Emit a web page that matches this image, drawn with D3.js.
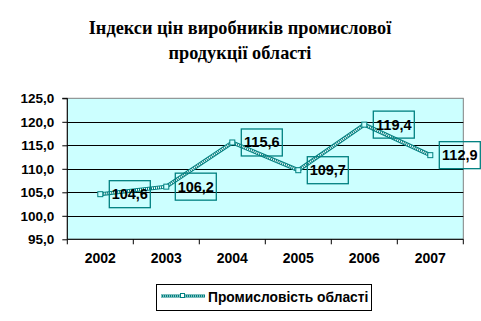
<!DOCTYPE html>
<html>
<head>
<meta charset="utf-8">
<script src="https://cdn.jsdelivr.net/npm/d3@7"></script>
<style>
  body { margin: 0; background: #fff; }
  svg { display: block; }
</style>
</head>
<body>
<div id="chart"></div>
<script>
const years = ['2002', '2003', '2004', '2005', '2006', '2007'];
const values = [104.6, 106.2, 115.6, 109.7, 119.4, 112.9];
const yTicks = [95, 100, 105, 110, 115, 120, 125];
const titleLines = ['Індекси цін виробників промислової', 'продукції області'];
const seriesName = 'Промисловість області';

const W = 481, H = 321;
const PLOT = { left: 67.3, right: 463.3, top: 98.3, bottom: 239.3 };
const COLORS = { plot: '#ccffff', line: '#008080', grid: '#000', border: '#808080' };

const fmt = v => v.toFixed(1).replace('.', ',');

const svg = d3.select('#chart').append('svg')
  .attr('width', W)
  .attr('height', H);

// Title
svg.append('text')
  .attr('x', 240)
  .attr('y', 34)
  .attr('text-anchor', 'middle')
  .attr('font-family', 'Liberation Serif, Times New Roman, serif')
  .attr('font-weight', 'bold')
  .attr('font-size', 18.3)
  .selectAll('tspan')
    .data(titleLines)
  .enter().append('tspan')
    .attr('x', 240)
    .attr('dy', (d, i) => i ? 25 : 0)
    .text(d => d);

const x = d3.scaleBand()
  .domain(years)
  .range([PLOT.left, PLOT.right]);
const y = d3.scaleLinear()
  .domain([95, 125])
  .range([PLOT.bottom, PLOT.top]);

// Plot area
svg.append('rect')
  .attr('x', PLOT.left)
  .attr('y', PLOT.top)
  .attr('width', PLOT.right - PLOT.left)
  .attr('height', PLOT.bottom - PLOT.top)
  .attr('fill', COLORS.plot)
  .attr('stroke', COLORS.border)
  .attr('stroke-width', 1);

// Grid lines
svg.selectAll('.grid')
    .data(yTicks.filter(t => t > 95 && t < 125))
  .enter().append('line')
    .attr('x1', PLOT.left)
    .attr('x2', PLOT.right)
    .attr('y1', d => Math.round(y(d)) + 0.5)
    .attr('y2', d => Math.round(y(d)) + 0.5)
    .attr('stroke', COLORS.grid)
    .attr('stroke-width', 1);

// Axes
const yAxis = svg.append('g')
  .attr('transform', `translate(${PLOT.left},0)`)
  .call(d3.axisLeft(y).tickValues(yTicks).tickFormat(fmt).tickSize(5).tickPadding(8));
const xAxis = svg.append('g')
  .attr('transform', `translate(0,${PLOT.bottom})`)
  .call(d3.axisBottom(x).tickSize(0).tickPadding(14));
xAxis.selectAll('.band-tick')
    .data(d3.range(years.length + 1))
  .enter().append('line')
    .attr('x1', i => PLOT.left + i * x.step())
    .attr('x2', i => PLOT.left + i * x.step())
    .attr('y1', 0)
    .attr('y2', 5)
    .attr('stroke', '#000');

for (let ax of [yAxis, xAxis]) {
  ax.select('.domain').attr('stroke', '#000');
  ax.selectAll('.tick line').attr('stroke', '#000');
  ax.selectAll('text')
    .attr('font-family', 'Arial, Liberation Sans, sans-serif')
    .attr('font-weight', 'bold')
    .attr('font-size', 13.5)
    .attr('fill', '#000');
}
xAxis.selectAll('text').attr('font-size', 14);
yAxis.select('.domain').attr('d', `M-5,${PLOT.top}H0V${PLOT.bottom}`);
xAxis.select('.domain').attr('d', `M${PLOT.left},0H${PLOT.right}`);

// Series line (hatched)
const cx = d => x(d) + x.bandwidth() / 2;
const line = d3.line()
  .x((d, i) => cx(years[i]))
  .y(d => y(d));

svg.append('path')
  .datum(values)
  .attr('d', line)
  .attr('fill', 'none')
  .attr('stroke', COLORS.line)
  .attr('stroke-width', 4);
svg.append('path')
  .datum(values)
  .attr('d', line)
  .attr('fill', 'none')
  .attr('stroke', '#fff')
  .attr('stroke-width', 2)
  .attr('stroke-dasharray', '1,1');

// Markers
svg.selectAll('.marker')
    .data(values)
  .enter().append('rect')
    .attr('x', (d, i) => cx(years[i]) - 2.5)
    .attr('y', d => y(d) - 2.5)
    .attr('width', 5)
    .attr('height', 5)
    .attr('fill', COLORS.plot)
    .attr('stroke', COLORS.line)
    .attr('stroke-width', 1);

// Data labels
const labels = svg.selectAll('.label')
    .data(values)
  .enter().append('g')
    .attr('transform', (d, i) => `translate(${cx(years[i]) + 9},${y(d)})`);
labels.append('rect')
  .attr('x', 0)
  .attr('y', -13.5)
  .attr('width', 41)
  .attr('height', 27)
  .attr('fill', 'none')
  .attr('stroke', COLORS.line)
  .attr('stroke-width', 1.3);
labels.append('text')
  .text(fmt)
  .attr('x', 20.5)
  .attr('y', 5)
  .attr('text-anchor', 'middle')
  .attr('font-family', 'Arial, Liberation Sans, sans-serif')
  .attr('font-weight', 'bold')
  .attr('font-size', 14.5)
  .attr('fill', '#000');

// Legend
const legend = svg.append('g');
legend.append('rect')
  .attr('x', 156.5)
  .attr('y', 284.5)
  .attr('width', 215)
  .attr('height', 26)
  .attr('fill', '#fff')
  .attr('stroke', '#000')
  .attr('stroke-width', 1);
legend.append('line')
  .attr('x1', 161).attr('x2', 205).attr('y1', 296).attr('y2', 296)
  .attr('stroke', COLORS.line).attr('stroke-width', 3);
legend.append('line')
  .attr('x1', 161).attr('x2', 205).attr('y1', 296).attr('y2', 296)
  .attr('stroke', '#fff').attr('stroke-width', 1).attr('stroke-dasharray', '1,1');
legend.append('rect')
  .attr('x', 180.5).attr('y', 293.5).attr('width', 4).attr('height', 4)
  .attr('fill', '#fff').attr('stroke', COLORS.line);
legend.append('text')
  .text(seriesName)
  .attr('x', 208)
  .attr('y', 301.5)
  .attr('font-family', 'Arial, Liberation Sans, sans-serif')
  .attr('font-weight', 'bold')
  .attr('font-size', 13.8)
  .attr('fill', '#000');
</script>
</body>
</html>
